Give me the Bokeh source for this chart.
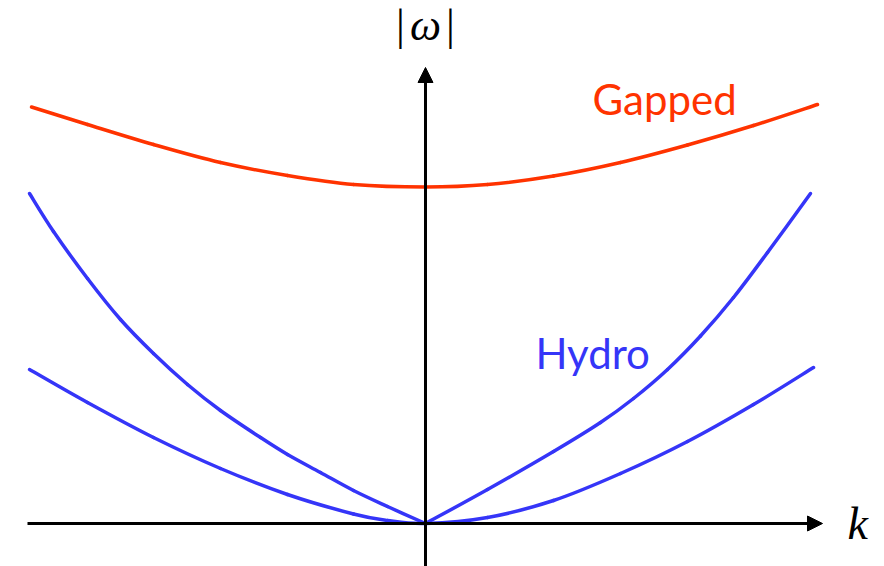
from bokeh.plotting import figure
from bokeh.models import Range1d, Arrow, NormalHead, Label
from bokeh.embed import file_html
from bokeh.resources import INLINE

# Dispersion sketch |omega| vs k (arbitrary units)
gapped_k = [-3.94, -3.38, -2.72, -2.05, -1.38, -0.72, 0.0, 0.62, 1.28, 1.95, 2.62, 3.28, 3.92]
gapped_w = [4.165, 3.99, 3.79, 3.61, 3.48, 3.39, 3.365, 3.39, 3.475, 3.61, 3.785, 3.98, 4.19]

# sound-like hydro mode: linear at small k, stiffening at large k (two branches meeting at k=0)
sound_left_k = [-3.96, -3.72, -3.38, -3.05, -2.72, -2.38, -2.05, -1.65, -1.38, -1.05, -0.72, -0.38, 0.0]
sound_left_w = [3.30, 2.92, 2.45, 2.04, 1.70, 1.39, 1.13, 0.86, 0.69, 0.51, 0.33, 0.17, 0.0]
sound_right_k = [0.0, 0.62, 1.28, 1.75, 2.08, 2.42, 2.75, 3.08, 3.42, 3.85]
sound_right_w = [0.0, 0.34, 0.72, 1.01, 1.25, 1.54, 1.875, 2.26, 2.71, 3.30]

# diffusive hydro mode: quadratic at small k
diff_k = [-3.96, -3.38, -2.72, -2.05, -1.38, -0.72, -0.38, 0.0,
          0.62, 1.28, 1.95, 2.62, 3.28, 3.88]
diff_w = [1.54, 1.21, 0.86, 0.55, 0.29, 0.095, 0.03, 0.0,
          0.06, 0.23, 0.50, 0.82, 1.19, 1.56]

RED = "#FF3300"
BLUE = "#3535F8"


def smooth_segments(xs, ys):
    """Cubic Bezier segments through consecutive points (Catmull-Rom tangents)."""
    n = len(xs)
    seg = dict(x0=[], y0=[], x1=[], y1=[], cx0=[], cy0=[], cx1=[], cy1=[])
    for i in range(n - 1):
        xp, yp = (xs[i - 1], ys[i - 1]) if i > 0 else (xs[i], ys[i])
        xn, yn = (xs[i + 2], ys[i + 2]) if i + 2 < n else (xs[i + 1], ys[i + 1])
        seg["x0"].append(xs[i]); seg["y0"].append(ys[i])
        seg["x1"].append(xs[i + 1]); seg["y1"].append(ys[i + 1])
        seg["cx0"].append(xs[i] + (xs[i + 1] - xp) / 6)
        seg["cy0"].append(ys[i] + (ys[i + 1] - yp) / 6)
        seg["cx1"].append(xs[i + 1] - (xn - xs[i]) / 6)
        seg["cy1"].append(ys[i + 1] - (yn - ys[i]) / 6)
    return seg


p = figure(width=884, height=566, output_backend="svg", toolbar_location=None,
           x_axis_type=None, y_axis_type=None,
           x_range=Range1d(-4.25, 4.59), y_range=Range1d(-0.43, 5.23),
           min_border=0, outline_line_color=None, background_fill_color="white")

# hand-drawn style axes with arrow heads
p.add_layout(Arrow(x_start=-3.98, y_start=0, x_end=3.97, y_end=0,
                   line_color="black", line_width=3,
                   end=NormalHead(size=15, fill_color="black", line_color="black", line_width=1)))
p.add_layout(Arrow(x_start=0, y_start=-0.45, x_end=0, y_end=4.56,
                   line_color="black", line_width=3,
                   end=NormalHead(size=15, fill_color="black", line_color="black", line_width=1)))

curves = [
    (gapped_k, gapped_w, RED),
    (sound_left_k, sound_left_w, BLUE),
    (sound_right_k, sound_right_w, BLUE),
    (diff_k, diff_w, BLUE),
]
for ks, ws, col in curves:
    p.bezier(source=smooth_segments(ks, ws), x0="x0", y0="y0", x1="x1", y1="y1",
             cx0="cx0", cy0="cy0", cx1="cx1", cy1="cy1",
             line_color=col, line_width=3.5, line_cap="round")

# axis labels
serif = "Liberation Serif"
label_kw = dict(text_baseline="alphabetic", text_color="black")
p.add_layout(Label(x=-0.25, y=4.98, text="|", text_font=serif, text_font_size="44px",
                   text_align="center", **label_kw))
p.add_layout(Label(x=0.0, y=4.98, text="ω", text_font=serif, text_font_style="italic",
                   text_font_size="44px", text_align="center", **label_kw))
p.add_layout(Label(x=0.25, y=4.98, text="|", text_font=serif, text_font_size="44px",
                   text_align="center", **label_kw))
p.add_layout(Label(x=4.22, y=0.0, text="k", text_font=serif, text_font_style="italic",
                   text_font_size="46px", text_align="left", **label_kw))

# curve labels
p.add_layout(Label(x=1.67, y=4.25, text="Gapped", text_font="Lato", text_font_size="42px",
                   text_align="left", text_baseline="alphabetic", text_color=RED))
p.add_layout(Label(x=1.10, y=1.71, text="Hydro", text_font="Lato", text_font_size="42px",
                   text_align="left", text_baseline="alphabetic", text_color=BLUE))

open("out.html", "w").write(file_html(p, INLINE))
